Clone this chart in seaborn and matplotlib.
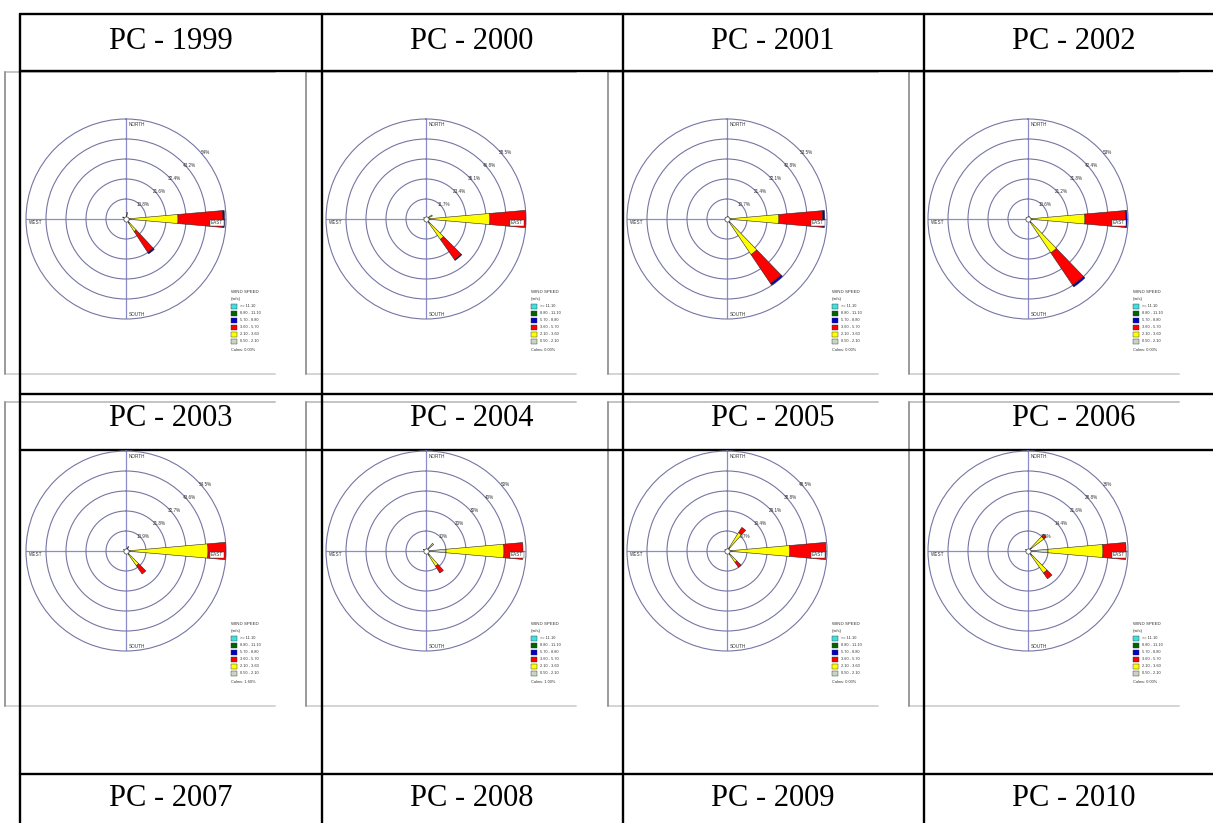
import numpy as np
import matplotlib
matplotlib.use('Agg')
import matplotlib.pyplot as plt
import seaborn as sns

sns.set_theme(style='white')
plt.rcParams['font.family'] = ['Liberation Sans', 'DejaVu Sans']

# table captions
years = ['1999', '2000', '2001', '2002', '2003', '2004', '2005', '2006']
footer_years = ['2007', '2008', '2009', '2010']

# rose scale (value of the first ring, in %) and calm share
ring_step = [10.8, 11.7, 10.7, 10.6, 10.9, 10.0, 9.7, 7.2]
calms = ['0.00', '0.00', '0.00', '0.00', '1.60', '1.00', '0.00', '0.00']

# wind speed classes (m/s), top to bottom as in the legend
speed_bins = ['>= 11.10', '8.80 - 11.10', '5.70 - 8.80', '3.60 - 5.70', '2.10 - 3.60', '0.50 - 2.10']
speed_colors = sns.color_palette(['#3fe0e0', '#006400', '#0000c8', '#ff0000', '#ffff00', '#c8d4c4'])

# east petal, % of time per speed class
east_low = [2.2, 2.3, 2.1, 2.1, 2.2, 10.0, 2.4, 7.2]
east_mid = [25.9, 35.1, 25.7, 28.1, 42.5, 29.0, 28.1, 19.8]
east_high = [24.3, 21.1, 23.5, 21.5, 9.8, 9.5, 17.5, 8.3]
east_top = [0.8, 0.0, 1.0, 0.8, 0.0, 0.0, 0.0, 0.0]

# south-east petal
se_dir = [142, 140, 141, 141, 140, 143, 140, 140]
se_low = [2.7, 2.9, 2.1, 2.1, 2.2, 2.5, 1.9, 1.8]
se_mid = [5.4, 11.7, 20.9, 19.6, 7.6, 6.5, 4.9, 7.9]
se_high = [13.5, 14.6, 18.7, 20.7, 5.5, 4.0, 2.9, 2.5]
se_top = [0.8, 0.4, 1.0, 1.0, 0.0, 0.0, 0.0, 0.0]

# small north-east petal
ne_dir = [10, 60, 20, 20, 30, 45, 37, 48]
ne_low = [3.5, 1.8, 1.6, 1.6, 2.7, 5.0, 1.9, 1.4]
ne_mid = [0.0, 2.3, 0.0, 0.0, 0.0, 0.0, 8.7, 5.8]
ne_high = [0.0, 0.0, 0.0, 0.0, 0.0, 0.0, 2.9, 1.1]

# tiny north-west petal
nw_low = [2.0, 1.5, 1.2, 1.2, 1.5, 1.5, 1.2, 1.0]


W, H = 1213, 823
R = 100
fig = plt.figure(figsize=(W / 100, H / 100), dpi=100)
fig.patch.set_facecolor('white')

bg = fig.add_axes([0, 0, 1, 1])
bg.set_xlim(0, W)
bg.set_ylim(H, 0)
bg.axis('off')

panel_x = [5, 306, 608, 909]
panel_y = [(72, 374), (402, 706)]
centers_x = [126, 426, 727, 1028]
centers_y = [219, 551]

# screenshot frames
for top, bottom in panel_y:
    for px in panel_x:
        bg.plot([px, px + 270], [top, top], color='#c4c4c4', lw=1.4, zorder=1)
        bg.plot([px, px + 270], [bottom, bottom], color='#d4d4d4', lw=1.4, zorder=1)
        bg.plot([px, px], [top, bottom], color='#9a9a9a', lw=1.4, zorder=1)

# table grid
for y in [14, 71, 394, 450, 774]:
    bg.plot([20, W + 20], [y, y], color='black', lw=1.7, zorder=5)
for x in [20, 322, 623, 924]:
    bg.plot([x, x], [14, H + 5], color='black', lw=1.7, zorder=5)

col_mid = [171, 472, 773, 1074]
for j in range(4):
    bg.text(col_mid[j], 49, 'PC - ' + years[j], ha='center', va='baseline',
            fontsize=22, family='Liberation Serif', color='black', zorder=6)
    bg.text(col_mid[j], 426, 'PC - ' + years[j + 4], ha='center', va='baseline',
            fontsize=22, family='Liberation Serif', color='black', zorder=6)
    bg.text(col_mid[j], 806, 'PC - ' + footer_years[j], ha='center', va='baseline',
            fontsize=22, family='Liberation Serif', color='black', zorder=6)


def ring_label(v):
    if abs(v - round(v)) < 1e-6:
        return '%d%%' % round(v)
    return '%.1f%%' % v


def draw_rose(i, cx, cy):
    ax = fig.add_axes([(cx - R) / W, (H - cy - R) / H, 2 * R / W, 2 * R / H],
                      projection='polar')
    ax.set_facecolor('none')
    ax.set_theta_zero_location('N')
    ax.set_theta_direction(-1)
    step = ring_step[i]
    ax.set_ylim(0, 5 * step)
    ax.set_yticks([step * k for k in range(1, 5)])
    ax.set_yticklabels([])
    ax.set_xticks(np.deg2rad([0, 90, 180, 270]))
    ax.set_xticklabels([])
    ax.tick_params(length=0)
    ax.xaxis.grid(True, color='#8c8cc8', lw=0.9)
    ax.yaxis.grid(True, color='#7676a4', lw=0.8)
    ax.spines['polar'].set_color('#7676a4')
    ax.spines['polar'].set_linewidth(0.8)

    w = np.deg2rad(10)
    petals = [
        (90, [east_low[i], east_mid[i], east_high[i], east_top[i]]),
        (se_dir[i], [se_low[i], se_mid[i], se_high[i], se_top[i]]),
        (ne_dir[i], [ne_low[i], ne_mid[i], ne_high[i], 0.0]),
        (300, [nw_low[i], 0.0, 0.0, 0.0]),
    ]
    cols = [speed_colors[5], speed_colors[4], speed_colors[3], speed_colors[2]]
    for bearing, vals in petals:
        base = 0
        for v, c in zip(vals, cols):
            if v > 0:
                ax.bar(np.deg2rad(bearing), v, width=w, bottom=base, color=c,
                       edgecolor='#2a2a2a', linewidth=0.4, zorder=3)
            base += v
    ax.scatter([0], [0], s=14, c='white', edgecolors='#404040', linewidths=0.5, zorder=6)

    def t(dx, dy, s, **kw):
        ax.text(0.5 + dx / (2 * R), 0.5 - dy / (2 * R), s, transform=ax.transAxes,
                fontsize=3.3, color='#333333', clip_on=False, zorder=7, **kw)

    t(3, -94, 'NORTH', ha='left', va='center')
    t(3, 95, 'SOUTH', ha='left', va='center')
    t(-97, 4, 'WEST', ha='left', va='center')
    t(97, 4, 'EAST', ha='right', va='center',
      bbox=dict(boxstyle='square,pad=0.15', fc='white', ec='#333333', lw=0.3))
    ang = np.deg2rad(40)
    for k in range(1, 6):
        r = 20 * k + 3
        t(r * np.cos(ang), -r * np.sin(ang), ring_label(step * k), ha='center', va='center')

    # legend
    lx = cx + 105
    bg.text(lx, cy + 73, 'WIND SPEED', fontsize=3.2, color='#333333', va='center', zorder=6)
    bg.text(lx, cy + 80, '(m/s)', fontsize=3.2, color='#333333', va='center', zorder=6)
    for k in range(6):
        yy = cy + 87 + 7 * k
        bg.add_patch(plt.Rectangle((lx, yy - 2.5), 6, 5, facecolor=speed_colors[k],
                                   edgecolor='#333333', lw=0.3, zorder=6))
        bg.text(lx + 9, yy, speed_bins[k], fontsize=2.8, color='#333333', va='center', zorder=6)
    bg.text(lx, cy + 131, 'Calms: ' + calms[i] + '%', fontsize=2.8, color='#333333',
            va='center', zorder=6)


for i in range(8):
    draw_rose(i, centers_x[i % 4], centers_y[i // 4])

fig.savefig('out.png', dpi=100, facecolor='white')
